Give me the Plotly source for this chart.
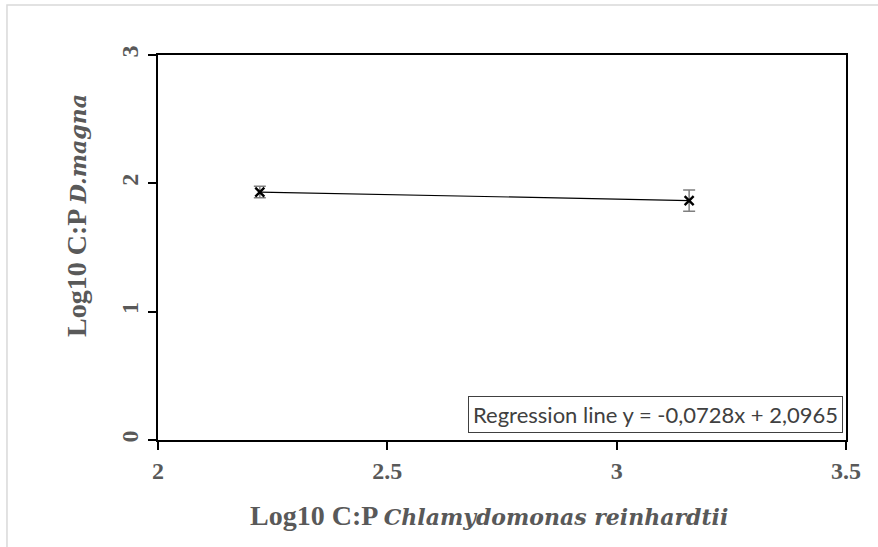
import plotly.graph_objects as go

# Log10 C:P of the algae (x) and of D. magna (y), with SD
cp_algae = [2.222, 3.158]
cp_daphnia = [1.932, 1.866]
cp_daphnia_sd = [0.045, 0.083]

reg_text = "Regression line y = -0,0728x + 2,0965"
# Liberation Serif has no italic face here, so the species names use DejaVu Serif
ital = "<span style='font-family:DejaVu Serif;font-style:italic;font-weight:bold;font-size:22px'>{}</span>"
x_title = "<b>Log10 C:P </b>" + ital.format("Chlamydomonas reinhardtii")
y_title = "<b>Log10 C:P </b>" + ital.format("D.magna")

serif = "Liberation Serif, Times New Roman, serif"
grey_txt = "#595959"

fig = go.Figure()
fig.add_trace(
    go.Scatter(
        x=cp_algae,
        y=cp_daphnia,
        mode="lines+markers",
        line=dict(color="black", width=1.2),
        marker=dict(symbol="x-thin-open", size=9, line=dict(color="black", width=2.4)),
        error_y=dict(type="data", array=cp_daphnia_sd, visible=True,
                     color="#7f7f7f", thickness=1.5, width=6),
        showlegend=False,
    )
)

fig.add_annotation(
    text=reg_text, xref="paper", yref="paper", x=0.9956, y=0.018,
    xanchor="right", yanchor="bottom", showarrow=False,
    font=dict(family="Lato, Carlito, sans-serif", size=22, color="#404040"),
    bordercolor="#404040", borderwidth=1, borderpad=4, bgcolor="white",
)

title_font = dict(family=serif, size=28, color=grey_txt)
# axis titles placed as annotations (Excel puts them off-centre)
fig.add_annotation(text=x_title, xref="paper", yref="paper", x=0.4818, y=-0.195,
                   xanchor="center", yanchor="middle", showarrow=False, font=title_font)
fig.add_annotation(text=y_title, xref="paper", yref="paper", x=-0.1177, y=0.582,
                   xanchor="center", yanchor="middle", textangle=-90,
                   showarrow=False, font=title_font)

# light grey outer chart-area border
fig.add_shape(type="rect", xref="paper", yref="paper",
              x0=-0.2195, x1=1.05, y0=-0.35, y1=1.1299,
              line=dict(color="#d9d9d9", width=1.5), layer="below")

tick_font = dict(family=serif, size=24, color=grey_txt, weight="bold")

fig.update_xaxes(
    range=[2, 3.5], dtick=0.5, automargin=False,
    showgrid=False, zeroline=False,
    showline=True, linecolor="black", linewidth=2, mirror=True,
    ticks="outside", ticklen=8, tickwidth=2, tickcolor="black",
    tickfont=tick_font,
)
fig.update_yaxes(
    range=[0, 3], dtick=1, automargin=False,
    showgrid=False, zeroline=False,
    showline=True, linecolor="black", linewidth=2, mirror=True,
    ticks="outside", ticklen=8, tickwidth=2, tickcolor="black",
    tickangle=-90,
    tickfont=tick_font,
)

fig.update_layout(
    width=878, height=547,
    margin=dict(l=158, r=32, t=55, b=107),
    plot_bgcolor="white", paper_bgcolor="white",
    font=dict(family=serif, color=grey_txt),
)

fig.write_html("out.html", config={"displayModeBar": False},
               post_script="document.body.style.margin='0';")
